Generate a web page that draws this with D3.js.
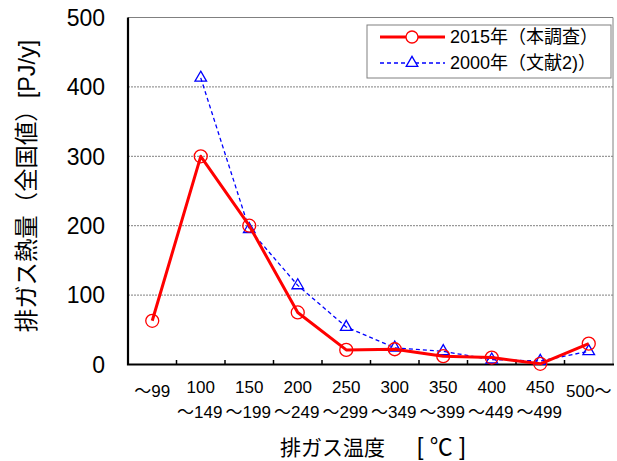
<!DOCTYPE html>
<html><head><meta charset="utf-8">
<script src="https://cdn.jsdelivr.net/npm/d3@7"></script>
<style>body{margin:0;background:#fff}svg{display:block}text{font-family:"Liberation Sans",Arial,"Noto Sans CJK JP",sans-serif;fill:#000}</style>
</head><body><svg id="c" width="617" height="461"></svg>
<script>
const categories = ["～99","100～149","150～199","200～249","250～299","300～349","350～399","400～449","450～499","500～"];
const labelLine1 = ["～99","100","150","200","250","300","350","400","450","500～"];
const labelLine2 = ["","～149","～199","～249","～299","～349","～399","～449","～499",""];
const series2015 = [63,300,200,75,21,22,12,10,1,30];
const series2000 = [null,413,195,114,54,24,19,7,5,19];
const yTicks = [0,100,200,300,400,500];
const seriesNames = ["2015年（本調査）","2000年（文献2)）"];

const svg = d3.select("#c");
const L=128,R=613,T=17.5,B=364.5;
const x = d3.scaleBand().domain(categories).range([L,R]);
const cx = c => x(c)+x.bandwidth()/2;
const y = d3.scaleLinear().domain([0,500]).range([B,T]);

// gridlines
svg.append("g").selectAll("line").data(yTicks.filter(d=>d>0&&d<500)).join("line")
  .attr("x1",L).attr("x2",R).attr("y1",d=>y(d)).attr("y2",d=>y(d))
  .attr("stroke","#808080").attr("stroke-width",1).attr("stroke-dasharray","2,1");
// top/right frame
svg.append("path").attr("d",`M${L},${T}H${R}V${B}`).attr("fill","none").attr("stroke","#808080").attr("stroke-width",1);

// y labels
svg.append("g").selectAll("text").data(yTicks).join("text")
  .attr("x",105).attr("y",d=>y(d)).attr("dy","0.36em").attr("text-anchor","end")
  .attr("font-size",23).text(d=>d);

// x ticks
const bounds = categories.slice(1).map(c=>x(c));
svg.append("g").selectAll("line").data(bounds).join("line")
  .attr("x1",d=>d).attr("x2",d=>d).attr("y1",B).attr("y2",B-4.5)
  .attr("stroke","#000").attr("stroke-width",1.5);

// axes lines
svg.append("path").attr("d",`M${L},${T}V${B}H${R+1}`).attr("fill","none").attr("stroke","#000").attr("stroke-width",2.2);

// x labels
const xl = svg.append("g");
categories.forEach((c,i)=>{
  const single = labelLine2[i]==="";
  xl.append("text").attr("x",cx(c)).attr("y",single?391:387).attr("dy","0.36em")
    .attr("text-anchor","middle").attr("font-size",17).text(labelLine1[i]);
  if(!single) xl.append("text").attr("x",cx(c)-1).attr("y",412).attr("dy","0.36em")
    .attr("text-anchor","middle").attr("font-size",17).text(labelLine2[i]);
});

// axis titles
svg.append("text").attr("x",280).attr("y",447).attr("dy","0.36em")
  .attr("font-size",21).text("排ガス温度");
svg.append("text").attr("x",417).attr("y",447).attr("dy","0.36em")
  .attr("font-size",23).attr("xml:space","preserve").text("[ ℃ ]");
svg.append("text").attr("transform","translate(27,186) rotate(-90)").attr("dy","0.36em")
  .attr("text-anchor","middle").attr("font-size",23.4)
  .text("排ガス熱量（全国値）[PJ/y]");

// series 2000
const d2000 = categories.map((c,i)=>({c,v:series2000[i]})).filter(d=>d.v!=null);
const line = d3.line().x(d=>cx(d.c)).y(d=>y(d.v));
svg.append("path").datum(d2000).attr("d",line).attr("fill","none").attr("stroke","#0000FF")
  .attr("stroke-width",1.3).attr("stroke-dasharray","4,3");
const tri = d3.symbol().type(d3.symbolTriangle).size(58);
svg.append("g").selectAll("path").data(d2000).join("path")
  .attr("d",tri).attr("transform",d=>`translate(${cx(d.c)},${y(d.v)})`)
  .attr("fill","none").attr("stroke","#0000FF").attr("stroke-width",1.3);

// series 2015
const d2015 = categories.map((c,i)=>({c,v:series2015[i]}));
svg.append("path").datum(d2015).attr("d",line).attr("fill","none").attr("stroke","#FF0000")
  .attr("stroke-width",3).attr("stroke-linejoin","round");
svg.append("g").selectAll("circle").data(d2015).join("circle")
  .attr("cx",d=>cx(d.c)).attr("cy",d=>y(d.v)).attr("r",6.5)
  .attr("fill","none").attr("stroke","#FF0000").attr("stroke-width",1.3);

// legend
const lg = svg.append("g");
lg.append("rect").attr("x",367).attr("y",25).attr("width",244).attr("height",53)
  .attr("fill","#fff").attr("stroke","#808080").attr("stroke-width",1);
lg.append("line").attr("x1",380).attr("x2",445).attr("y1",37).attr("y2",37).attr("stroke","#FF0000").attr("stroke-width",3);
lg.append("circle").attr("cx",412).attr("cy",37).attr("r",6).attr("fill","#fff").attr("stroke","#FF0000").attr("stroke-width",1.3);
lg.append("line").attr("x1",380).attr("x2",445).attr("y1",63).attr("y2",63).attr("stroke","#0000FF").attr("stroke-width",1.3).attr("stroke-dasharray","4,3");
lg.append("path").attr("d",tri).attr("transform","translate(412,63)").attr("fill","#fff").attr("stroke","#0000FF").attr("stroke-width",1.3);
lg.selectAll("text.s").data(seriesNames).join("text").attr("x",450).attr("y",(d,i)=>i?63:37)
  .attr("dy","0.36em").attr("font-size",18).text(d=>d);
</script></body></html>
